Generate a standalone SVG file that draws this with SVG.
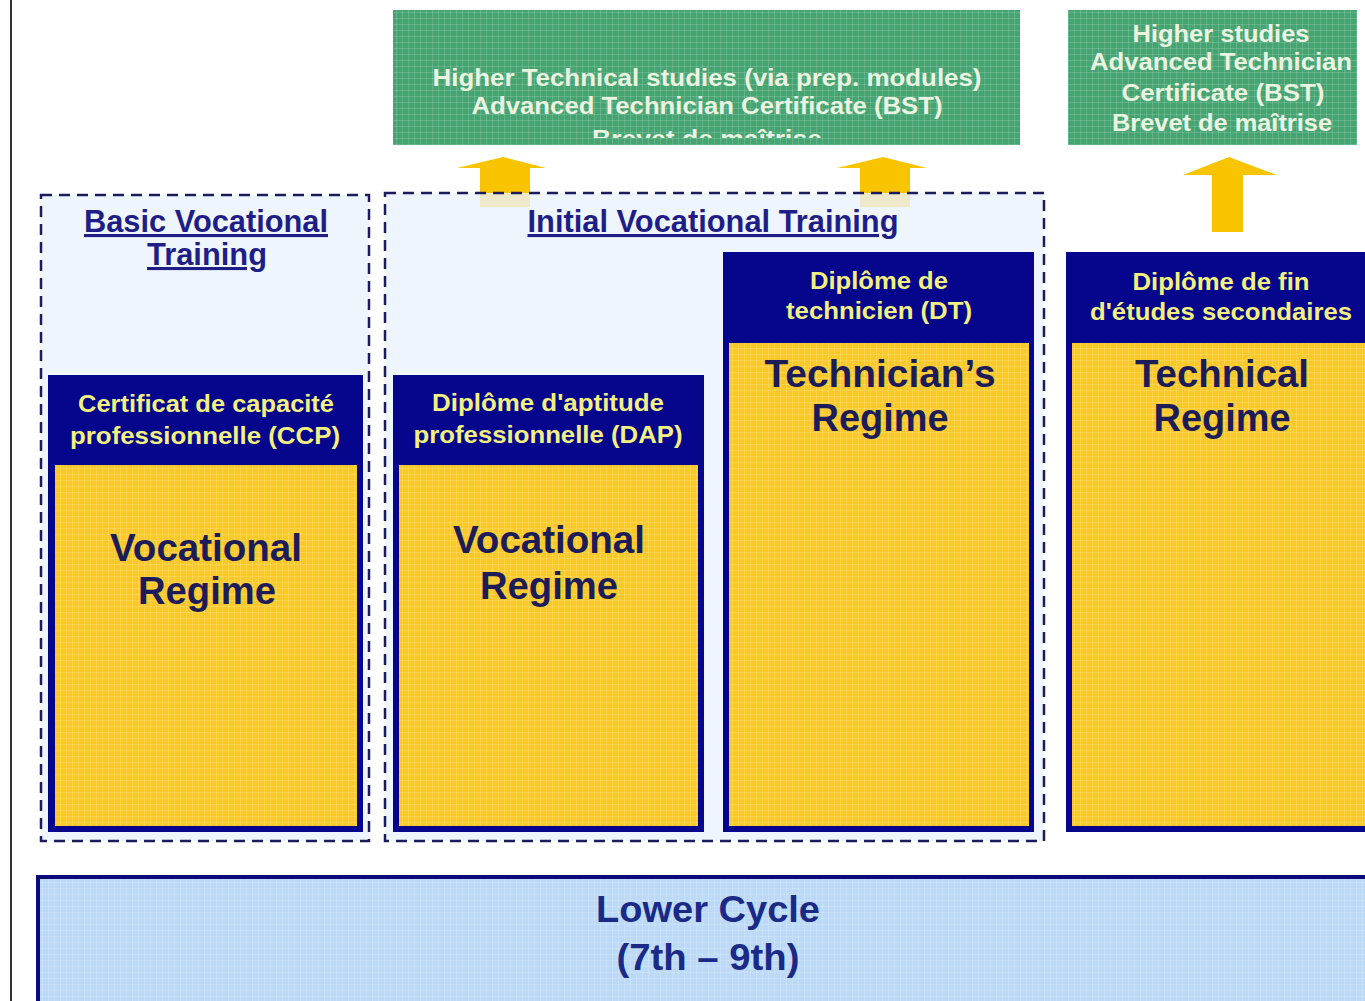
<svg xmlns="http://www.w3.org/2000/svg" width="1365" height="1001" viewBox="0 0 1365 1001">
<defs>
<pattern id="grid" width="6" height="6" patternUnits="userSpaceOnUse">
<path d="M0 0.5H6M0.5 0V6" stroke="#ffffff" stroke-opacity="0.15" stroke-width="1" fill="none"/>
</pattern>
<clipPath id="clipG1"><rect x="393" y="10" width="627" height="128"/></clipPath>
<style>
.green{fill:#45a572}
.gtxt{font-family:"Liberation Sans",Arial,sans-serif;font-weight:bold;font-size:24px;fill:#eaf4e0;text-anchor:middle}
.dash{fill:#eaf3fd;fill-opacity:0.8;stroke:#1c1c5c;stroke-width:2.5;stroke-dasharray:11 7}
.title{font-family:"Liberation Sans",Arial,sans-serif;font-weight:bold;font-size:31px;fill:#1e1e86;text-anchor:middle;text-decoration:underline}
.navy{fill:#06068c}
.yel{fill:#f9c927}
.htxt{font-family:"Liberation Sans",Arial,sans-serif;font-weight:bold;font-size:24px;fill:#f2f080;text-anchor:middle}
.rtxt{font-family:"Liberation Sans",Arial,sans-serif;font-weight:bold;font-size:39px;fill:#1c1c58;text-anchor:middle}
.arrow{fill:#f8c400}
.lower{fill:#bcdaf8;stroke:#0a0a78;stroke-width:4}
.ltxt{font-family:"Liberation Sans",Arial,sans-serif;font-weight:bold;font-size:37px;fill:#1a2a86;text-anchor:middle}
</style>
</defs>
<rect width="1365" height="1001" fill="#ffffff"/>
<line x1="11" y1="0" x2="11" y2="1001" stroke="#333333" stroke-width="2"/>

<g id="higher-technical">
<rect class="green" x="393" y="10" width="627" height="135"/>
<rect x="393" y="10" width="627" height="135" fill="url(#grid)"/>
<g clip-path="url(#clipG1)">
<text class="gtxt" x="707" y="86" textLength="549" lengthAdjust="spacingAndGlyphs">Higher Technical studies (via prep. modules)</text>
<text class="gtxt" x="707" y="114" textLength="471" lengthAdjust="spacingAndGlyphs">Advanced Technician Certificate (BST)</text>
<text class="gtxt" x="707" y="147" textLength="230" lengthAdjust="spacingAndGlyphs">Brevet de maîtrise</text>
</g>
</g>

<g id="higher-studies">
<rect class="green" x="1068" y="10" width="289" height="135"/>
<rect x="1068" y="10" width="289" height="135" fill="url(#grid)"/>
<text class="gtxt" x="1221" y="42" textLength="177" lengthAdjust="spacingAndGlyphs">Higher studies</text>
<text class="gtxt" x="1221" y="70" textLength="262" lengthAdjust="spacingAndGlyphs">Advanced Technician</text>
<text class="gtxt" x="1223" y="101" textLength="203" lengthAdjust="spacingAndGlyphs">Certificate (BST)</text>
<text class="gtxt" x="1222" y="131" textLength="220" lengthAdjust="spacingAndGlyphs">Brevet de maîtrise</text>
</g>

<g id="connectors">
<polygon class="arrow" points="480,207 480,168 457,168 503,157 546,168 530,168 530,207"/>
<polygon class="arrow" points="860,207 860,168 837,168 883,157 927,168 910,168 910,207"/>
<polygon class="arrow" points="1212,232 1212,175 1183,175 1229,157 1277,175 1243,175 1243,232"/>
</g>

<g id="basic-vocational-training">
<rect class="dash" x="41" y="195" width="328" height="646"/>
<text class="title" x="206" y="232" textLength="244" lengthAdjust="spacingAndGlyphs">Basic Vocational</text>
<text class="title" x="207" y="265" textLength="120" lengthAdjust="spacingAndGlyphs">Training</text>
</g>

<g id="initial-vocational-training">
<rect class="dash" x="385" y="193" width="659" height="648"/>
<text class="title" x="713" y="232" textLength="371" lengthAdjust="spacingAndGlyphs">Initial Vocational Training</text>
</g>

<g id="ccp-vocational-regime">
<rect class="navy" x="48" y="375" width="315" height="457"/>
<rect class="yel" x="55" y="465" width="302" height="361"/>
<rect x="55" y="465" width="302" height="361" fill="url(#grid)"/>
<text class="htxt" x="206" y="412" textLength="256" lengthAdjust="spacingAndGlyphs">Certificat de capacité</text>
<text class="htxt" x="205" y="444" textLength="270" lengthAdjust="spacingAndGlyphs">professionnelle (CCP)</text>
<text class="rtxt" x="206" y="561" textLength="192" lengthAdjust="spacingAndGlyphs">Vocational</text>
<text class="rtxt" x="207" y="604" textLength="138" lengthAdjust="spacingAndGlyphs">Regime</text>
</g>

<g id="dap-vocational-regime">
<rect class="navy" x="393" y="375" width="311" height="457"/>
<rect class="yel" x="399" y="465" width="299" height="361"/>
<rect x="399" y="465" width="299" height="361" fill="url(#grid)"/>
<text class="htxt" x="548" y="411" textLength="232" lengthAdjust="spacingAndGlyphs">Diplôme d'aptitude</text>
<text class="htxt" x="548" y="443" textLength="269" lengthAdjust="spacingAndGlyphs">professionnelle (DAP)</text>
<text class="rtxt" x="549" y="553" textLength="192" lengthAdjust="spacingAndGlyphs">Vocational</text>
<text class="rtxt" x="549" y="599" textLength="138" lengthAdjust="spacingAndGlyphs">Regime</text>
</g>

<g id="dt-technicians-regime">
<rect class="navy" x="723" y="252" width="311" height="580"/>
<rect class="yel" x="729" y="343" width="300" height="483"/>
<rect x="729" y="343" width="300" height="483" fill="url(#grid)"/>
<text class="htxt" x="879" y="289" textLength="138" lengthAdjust="spacingAndGlyphs">Diplôme de</text>
<text class="htxt" x="879" y="319" textLength="186" lengthAdjust="spacingAndGlyphs">technicien (DT)</text>
<text class="rtxt" x="880" y="387" textLength="231" lengthAdjust="spacingAndGlyphs">Technician’s</text>
<text class="rtxt" x="880" y="431" textLength="137" lengthAdjust="spacingAndGlyphs">Regime</text>
</g>

<g id="technical-regime">
<rect class="navy" x="1066" y="252" width="300" height="580"/>
<rect class="yel" x="1072" y="343" width="294" height="483"/>
<rect x="1072" y="343" width="294" height="483" fill="url(#grid)"/>
<text class="htxt" x="1221" y="290" textLength="177" lengthAdjust="spacingAndGlyphs">Diplôme de fin</text>
<text class="htxt" x="1221" y="320" textLength="262" lengthAdjust="spacingAndGlyphs">d'études secondaires</text>
<text class="rtxt" x="1222" y="387" textLength="174" lengthAdjust="spacingAndGlyphs">Technical</text>
<text class="rtxt" x="1222" y="431" textLength="137" lengthAdjust="spacingAndGlyphs">Regime</text>
</g>

<g id="lower-cycle">
<rect class="lower" x="38" y="877" width="1335" height="130"/>
<rect x="40" y="879" width="1325" height="122" fill="url(#grid)"/>
<text class="ltxt" x="708" y="922" textLength="224" lengthAdjust="spacingAndGlyphs">Lower Cycle</text>
<text class="ltxt" x="708" y="970" textLength="183" lengthAdjust="spacingAndGlyphs">(7th – 9th)</text>
</g>
</svg>
